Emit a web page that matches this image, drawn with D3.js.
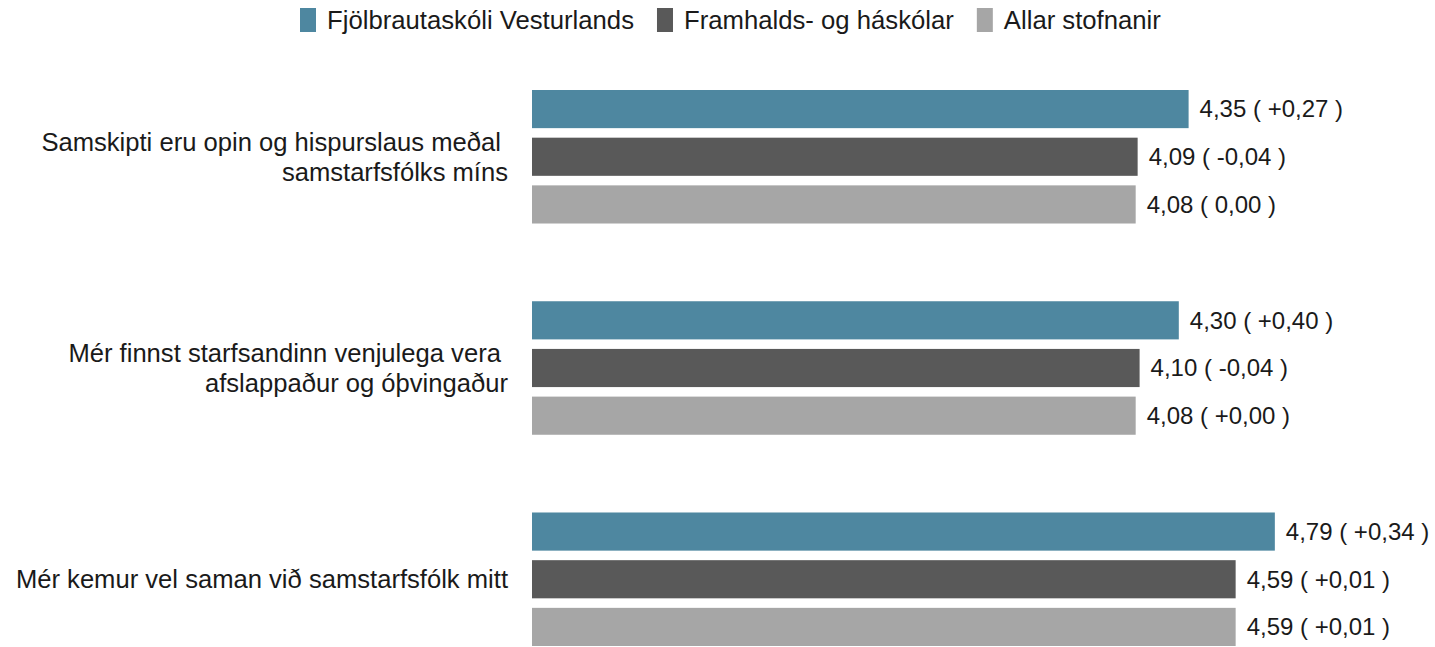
<!DOCTYPE html>
<html>
<head>
<meta charset="utf-8">
<script src="https://cdn.jsdelivr.net/npm/d3@7"></script>
<style>
  body { margin: 0; background: #fff; }
  text { font-family: "Liberation Sans", Arial, sans-serif; fill: #1a1a1a; }
</style>
</head>
<body>
<div id="chart"></div>
<script>
// data
const categories = [
  ["Samskipti eru opin og hispurslaus meðal ", "samstarfsfólks míns"],
  ["Mér finnst starfsandinn venjulega vera ", "afslappaður og óþvingaður"],
  ["Mér kemur vel saman við samstarfsfólk mitt"]
];
const series = ["Fjölbrautaskóli Vesturlands", "Framhalds- og háskólar", "Allar stofnanir"];
const colors = ["#4e87a0", "#595959", "#a6a6a6"];
const values = [
  [4.35, 4.09, 4.08],
  [4.30, 4.10, 4.08],
  [4.79, 4.59, 4.59]
];
const diffs = [
  ["+0,27", "-0,04", "0,00"],
  ["+0,40", "-0,04", "+0,00"],
  ["+0,34", "+0,01", "+0,01"]
];

const width = 1435, height = 647;
const fmt = v => d3.format(".2f")(v).replace(".", ",");

const svg = d3.select('#chart')
  .append('svg')
  .attr('width', width)
  .attr('height', height);

const x = d3.scaleLinear()
  .domain([1, 5])
  .range([532, 1316]);

const y = d3.scaleBand()
  .domain(d3.range(categories.length))
  .range([90, 646])
  .paddingInner(0.368)
  .paddingOuter(0);

const yInner = d3.scaleBand()
  .domain(d3.range(series.length))
  .range([0, y.bandwidth()])
  .paddingInner(0.2);

const groups = svg.selectAll('g.group')
  .data(categories)
  .enter()
  .append('g')
  .attr('class', 'group')
  .attr('transform', (d, i) => 'translate(0,' + y(i) + ')');

groups.each(function (cat, ci) {
  const g = d3.select(this);
  const rows = values[ci].map((v, si) => ({ v: v, s: si, diff: diffs[ci][si] }));

  g.selectAll('rect')
    .data(rows)
    .enter()
    .append('rect')
    .attr('x', x(1))
    .attr('y', d => yInner(d.s))
    .attr('width', d => x(d.v) - x(1))
    .attr('height', yInner.bandwidth())
    .style('fill', d => colors[d.s]);

  g.selectAll('text.val')
    .data(rows)
    .enter()
    .append('text')
    .attr('class', 'val')
    .attr('x', d => x(d.v) + 11)
    .attr('y', d => yInner(d.s) + yInner.bandwidth() / 2)
    .attr('dy', '0.35em')
    .style('font-size', '24px')
    .text(d => fmt(d.v) + ' ( ' + d.diff + ' )');

  // category label
  const mid = y.bandwidth() / 2;
  const lineH = 30;
  const label = g.append('text')
    .attr('text-anchor', 'end')
    .style('font-size', '25.6px')
    .style('white-space', 'pre');
  cat.forEach((line, li) => {
    label.append('tspan')
      .attr('x', x(1) - 24)
      .attr('y', mid + (li - (cat.length - 1) / 2) * lineH)
      .attr('dy', '0.35em')
      .text(line);
  });
});

// legend
const legend = svg.append('g').attr('transform', 'translate(300,20)');
let lx = 0;
series.forEach((s, i) => {
  const item = legend.append('g').attr('transform', 'translate(' + lx + ',0)');
  item.append('rect')
    .attr('x', 0)
    .attr('y', -12)
    .attr('width', 16)
    .attr('height', 24)
    .style('fill', colors[i]);
  const t = item.append('text')
    .attr('x', 27)
    .attr('y', 0)
    .attr('dy', '0.35em')
    .style('font-size', '25.7px')
    .text(s);
  lx += 27 + t.node().getComputedTextLength() + 23;
});
</script>
</body>
</html>
